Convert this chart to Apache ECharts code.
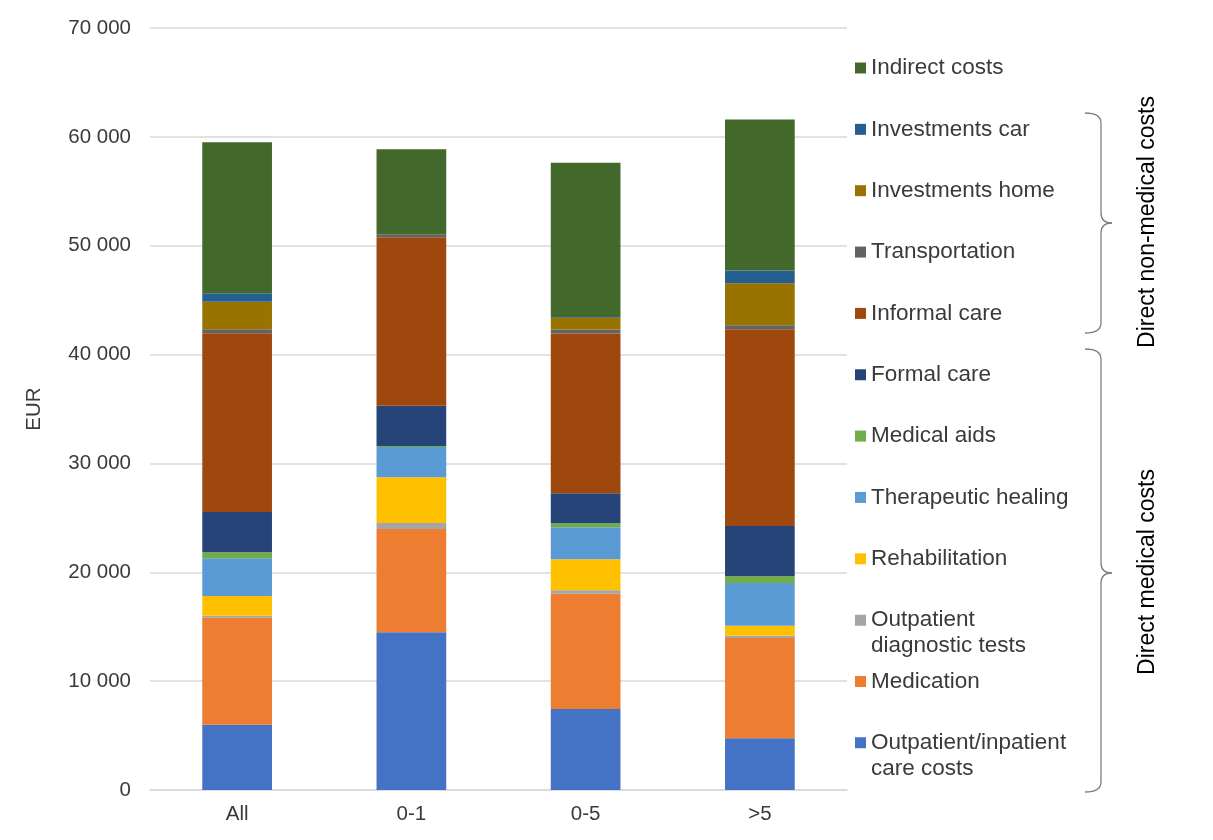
<!DOCTYPE html>
<html>
<head>
<meta charset="utf-8">
<script src="https://cdn.jsdelivr.net/npm/echarts@6/dist/echarts.min.js"></script>
<style>
  html, body { margin: 0; padding: 0; background: #ffffff; }
  #chart { width: 1213px; height: 840px; }
</style>
</head>
<body>
<div id="chart"></div>
<script>
// Age groups on the category axis
const ageGroups = ['All', '0-1', '0-5', '>5'];

// Mean annual cost per patient (EUR), one array per cost component
const outpatientInpatient = [6000, 14490, 7440, 4750];
const medication          = [9830, 9490, 10590, 9220];
const diagnosticTests     = [180, 550, 310, 210];
const rehabilitation      = [1810, 4200, 2850, 920];
const therapeuticHealing  = [3460, 2780, 2940, 3920];
const medicalAids         = [550, 90, 370, 620];
const formalCare          = [3700, 3700, 2760, 4620];
const informalCare        = [16420, 15470, 14670, 18070];
const transportation      = [370, 280, 370, 370];
const investmentsHome     = [2540, 0, 1080, 3860];
const investmentsCar      = [770, 0, 60, 1160];
const indirectCosts       = [13870, 7810, 14180, 13870];

// Y-axis ticks
const yTicks = [0, 10000, 20000, 30000, 40000, 50000, 60000, 70000];

// Stack order, bottom to top
const components = [
  { name: 'Outpatient/inpatient care costs', values: outpatientInpatient, color: '#4472C4' },
  { name: 'Medication',                      values: medication,          color: '#ED7D31' },
  { name: 'Outpatient diagnostic tests',     values: diagnosticTests,     color: '#A5A5A5' },
  { name: 'Rehabilitation',                  values: rehabilitation,      color: '#FFC000' },
  { name: 'Therapeutic healing',             values: therapeuticHealing,  color: '#5B9BD5' },
  { name: 'Medical aids',                    values: medicalAids,         color: '#70AD47' },
  { name: 'Formal care',                     values: formalCare,          color: '#264478' },
  { name: 'Informal care',                   values: informalCare,        color: '#9E480E' },
  { name: 'Transportation',                  values: transportation,      color: '#636363' },
  { name: 'Investments home',                values: investmentsHome,     color: '#997300' },
  { name: 'Investments car',                 values: investmentsCar,      color: '#255E91' },
  { name: 'Indirect costs',                  values: indirectCosts,       color: '#43682B' }
];

// Legend entries that wrap onto two lines
const legendLabels = {
  'Outpatient diagnostic tests': 'Outpatient\ndiagnostic tests',
  'Outpatient/inpatient care costs': 'Outpatient/inpatient\ncare costs'
};

const FONT = '"Liberation Sans", Arial, sans-serif';
const TEXT_COLOR = '#3a3a3a';
const LEGEND_LINE = 26;
const SWATCH = 11;

const chart = echarts.init(document.getElementById('chart'), null, { renderer: 'canvas' });

const series = components.map(c => ({
  name: c.name,
  type: 'bar',
  stack: 'cost',
  barWidth: '40%',
  data: c.values,
  itemStyle: { color: c.color },
  emphasis: { disabled: true }
}));

// Legend: top entry is the top of the stack; one block per entry with evenly spaced first lines.
// Two-line entries use a taller icon box whose square sits at the top, so the swatch lines up
// with the first text line.
const legendFirstLine = 68;
const legendStep = 61.35;
const tallIconHeight = SWATCH + LEGEND_LINE;
const tallIcon = `path://M0,0L${SWATCH},0L${SWATCH},${SWATCH}L0,${SWATCH}Z M0,${tallIconHeight}L${SWATCH},${tallIconHeight}`;
const legends = components.slice().reverse().map((c, i) => {
  const twoLines = !!legendLabels[c.name];
  return {
    data: [c.name],
    orient: 'vertical',
    left: 855,
    top: legendFirstLine + i * legendStep - LEGEND_LINE / 2,
    padding: 0,
    icon: twoLines ? tallIcon : 'rect',
    itemWidth: SWATCH,
    itemHeight: twoLines ? tallIconHeight : SWATCH,
    formatter: n => legendLabels[n] || n,
    textStyle: {
      fontFamily: FONT,
      fontSize: 22.5,
      color: TEXT_COLOR,
      lineHeight: LEGEND_LINE
    }
  };
});

// Right-hand curly brace from (x0, yTop) to (x0, yBottom), tip pointing right at yTip
const braceStyle = { stroke: '#7f7f7f', lineWidth: 1.3, fill: null };
function brace(x0, yTop, yBottom, yTip) {
  const x1 = x0 + 16, xt = x0 + 27, r = 10;
  const curve = (a, b, c, d, cx, cy) => ({
    type: 'bezierCurve',
    shape: { x1: a, y1: b, x2: c, y2: d, cpx1: cx, cpy1: cy },
    style: braceStyle
  });
  const line = (a, b, c, d) => ({
    type: 'line',
    shape: { x1: a, y1: b, x2: c, y2: d },
    style: braceStyle
  });
  return {
    type: 'group',
    children: [
      curve(x0, yTop, x1, yTop + r, x1, yTop),
      line(x1, yTop + r, x1, yTip - r),
      curve(x1, yTip - r, xt, yTip, x1, yTip),
      curve(xt, yTip, x1, yTip + r, x1, yTip),
      line(x1, yTip + r, x1, yBottom - r),
      curve(x1, yBottom - r, x0, yBottom, x1, yBottom)
    ]
  };
}

const option = {
  animation: false,
  backgroundColor: '#ffffff',
  grid: { left: 150, right: 366, top: 28, bottom: 50 },
  xAxis: {
    type: 'category',
    data: ageGroups,
    axisLine: { lineStyle: { color: '#d9d9d9', width: 1.5 } },
    axisTick: { show: false },
    axisLabel: { fontFamily: FONT, fontSize: 20.5, color: TEXT_COLOR, margin: 14 }
  },
  yAxis: {
    type: 'value',
    min: yTicks[0],
    max: yTicks[yTicks.length - 1],
    interval: yTicks[1] - yTicks[0],
    name: 'EUR',
    nameLocation: 'middle',
    nameRotate: 90,
    nameGap: 105,
    nameTextStyle: { fontFamily: FONT, fontSize: 20.5, color: TEXT_COLOR },
    axisLine: { show: false },
    axisTick: { show: false },
    splitLine: { lineStyle: { color: '#d9d9d9', width: 1.5 } },
    axisLabel: {
      fontFamily: FONT, fontSize: 20.5, color: TEXT_COLOR, margin: 19,
      formatter: v => String(v).replace(/\B(?=(\d{3})+(?!\d))/g, ' ')
    }
  },
  legend: legends,
  tooltip: { show: false },
  graphic: [
    brace(1085, 113, 333, 223),
    brace(1085, 349, 792, 573),
    {
      type: 'text', x: 1148, y: 222, rotation: Math.PI / 2,
      style: { text: 'Direct non-medical costs', fontFamily: FONT, fontSize: 23,
               fill: '#000000', align: 'center', verticalAlign: 'middle' }
    },
    {
      type: 'text', x: 1148, y: 572, rotation: Math.PI / 2,
      style: { text: 'Direct medical costs', fontFamily: FONT, fontSize: 23,
               fill: '#000000', align: 'center', verticalAlign: 'middle' }
    }
  ],
  series: series
};

chart.setOption(option);
</script>
</body>
</html>
